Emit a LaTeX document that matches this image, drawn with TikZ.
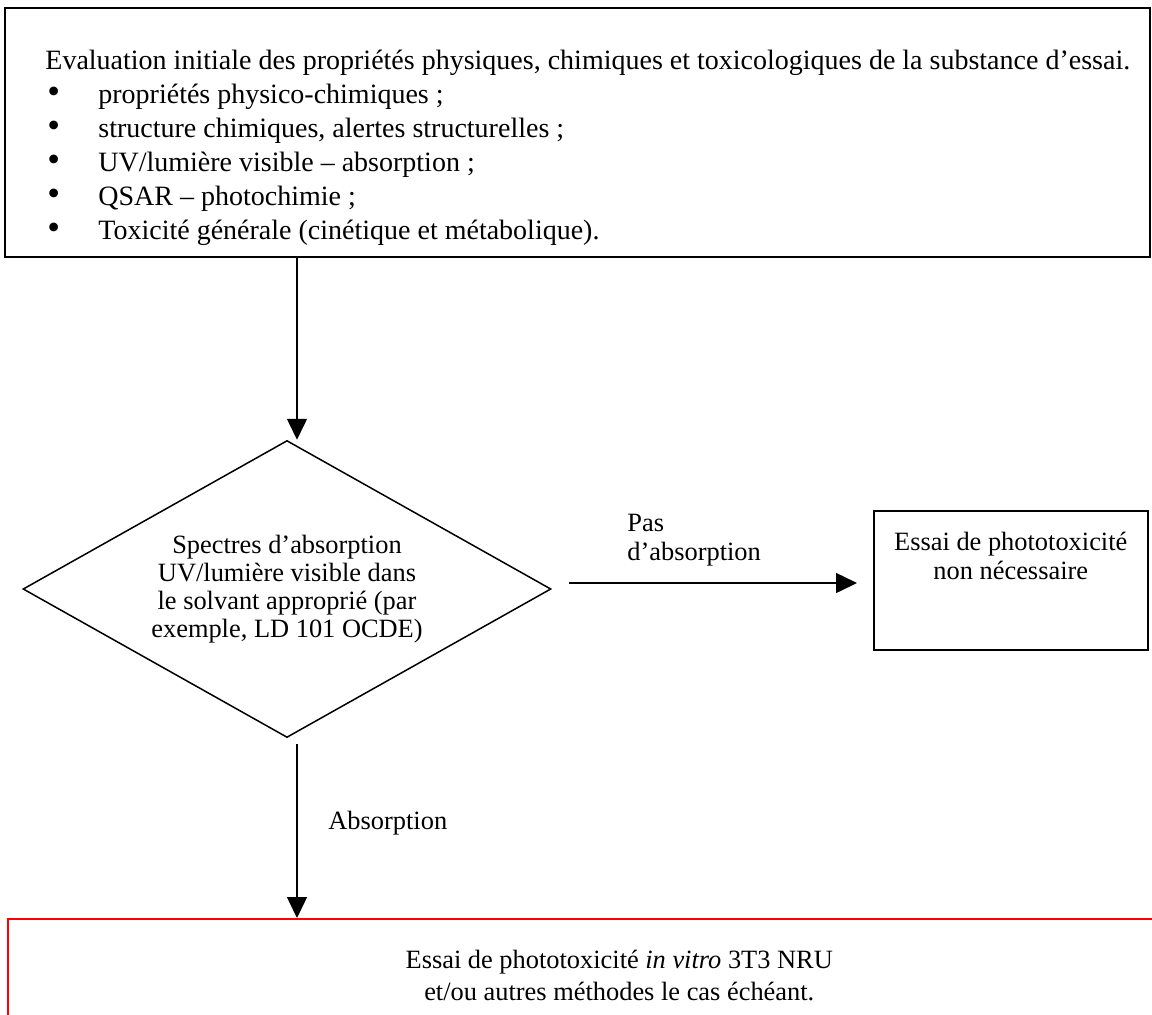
\documentclass[tikz,border=0pt]{standalone}
\usepackage{fontspec}
\setmainfont{Liberation Serif}
\usetikzlibrary{shapes.geometric,arrows.meta,positioning}

\tikzset{
  box/.style={draw, line width=0.75pt, inner sep=0pt},
  flow/.style={draw, line width=0.75pt, -{Triangle[length=10.5pt,width=10pt]}},
  txt/.style={font=\fontsize{13.2}{14.5}\selectfont, align=center, inner sep=0pt},
  decision/.style={diamond, draw, line width=0.75pt, inner sep=0pt, aspect=1.78, minimum width=264pt, minimum height=148.5pt},
}
\newcommand{\puce}{\makebox[26.5pt][l]{\hspace{1pt}\scalebox{1.3}{\textbullet}}}

\begin{document}
\begin{tikzpicture}[x=0.5pt,y=-0.5pt]
    \useasboundingbox (0,0) rectangle (1152,1014);

    % evaluation initiale
    \node[box, minimum width=572.5pt, minimum height=124.5pt] (eval) at (577.5,132.5) {};
    \node[txt, align=left, anchor=north west, font=\fontsize{14}{17}\selectfont] (evaltxt) at (45,50) {%
        Evaluation initiale des propriétés physiques, chimiques et toxicologiques de la substance d’essai.\\
        \puce propriétés physico-chimiques ;\\
        \puce structure chimiques, alertes structurelles ;\\
        \puce UV/lumière visible – absorption ;\\
        \puce QSAR – photochimie ;\\
        \puce Toxicité générale (cinétique et métabolique).};

    % decision
    \node[decision, txt, font=\fontsize{13.2}{14}\selectfont] (spectre) at (287,589) {Spectres d’absorption\\UV/lumière visible dans\\le solvant approprié (par\\exemple, LD 101 OCDE)};

    \node[box, minimum width=137pt, minimum height=69.5pt, anchor=north west] (nonec) at (873,510) {};
    \node[txt, below=11pt of nonec.north] (nonectxt) {Essai de phototoxicité\\non nécessaire};

    \node[box, draw=red, minimum width=611.5pt, minimum height=60pt, anchor=north west] (essai) at (7,918) {};
    \node[txt, font=\fontsize{13.2}{16}\selectfont, below=16pt of essai.north] (essaitxt) {Essai de phototoxicité \textit{in vitro} 3T3 NRU\\et/ou autres méthodes le cas échéant.};

    % fleches
    \coordinate (v1) at ([xshift=5pt]spectre.north);
    \draw[flow] (v1 |- eval.south) -- (v1);

    \coordinate (h1) at ([xshift=8.5pt,yshift=3pt]spectre.east);
    \coordinate (h2) at (h1 -| nonec.west);
    \draw[flow] (h1) -- ([xshift=-8pt]h2);
    \node[txt, align=left, anchor=south west] (pas) at (627,567) {Pas\\d’absorption};

    \coordinate (v2) at ([xshift=5pt,yshift=-3pt]spectre.south);
    \draw[flow] (v2) -- (v2 |- essai.north);
    \node[txt, anchor=west] (abs) at (328,823) {Absorption};
\end{tikzpicture}
\end{document}
